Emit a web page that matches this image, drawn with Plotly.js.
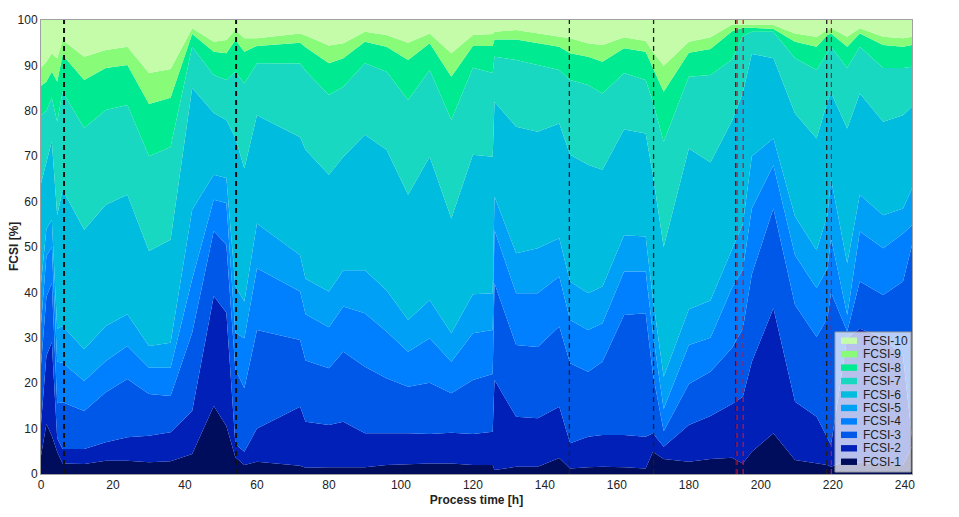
<!DOCTYPE html>
<html>
<head>
<meta charset="utf-8">
<script src="https://cdn.plot.ly/plotly-3.0.1.min.js"></script>
<style>html,body{margin:0;padding:0;background:#fff;}#chart{width:959px;height:517px;}</style>
</head>
<body>
<div id="chart"></div>
<script>
// Process time [h]
const time = [0, 1.5, 3, 4.5, 6, 12, 18, 24, 30, 36, 42, 48, 51.5, 54, 56.5, 60, 72, 73.5, 80, 84, 90, 96, 102, 108, 114, 120, 125.5, 126, 132, 138, 144, 147, 152, 156, 162, 168, 170, 173, 180, 186, 192, 195, 197.5, 203.5, 209.5, 215.5, 218.5, 219.5, 224, 227.5, 234, 239.5, 242];

// FCSI class shares [%]
const fcsi1  = [4, 11, 8.4, 4.9, 2.3, 2.2, 2.9, 2.9, 2.6, 2.8, 4.4, 15, 10.6, 3.7, 2, 2.7, 1.8, 1.4, 1.5, 1.5, 1.5, 2, 2.2, 2.3, 2.3, 2, 2, 0.9, 1.6, 1.6, 3.5, 1.2, 1.5, 1.6, 1.5, 1.2, 4.9, 3.3, 2.7, 3.3, 3.6, 2.3, 4.9, 9, 3.1, 2.3, 2, 1.6, 3, 2.5, 2, 2, 6];
const fcsi2  = [7, 15, 20.6, 3, 3.2, 3.3, 4.1, 5.2, 5.8, 6.4, 9.5, 24.2, 24.9, 2.9, 2.9, 7.3, 13, 10.1, 9.3, 10, 7.5, 7, 6.8, 6.5, 6.8, 6.8, 7.3, 19.8, 11, 10.7, 11.3, 5.6, 6.7, 7, 7.1, 7, 4.1, 2.7, 8.1, 9.5, 11.8, 14.7, 19.8, 27.5, 12.8, 10.3, 5.9, 4.8, 27, 29.5, 28, 24, 2];
const fcsi3  = [13, 13, 13, 7.7, 10.3, 8.4, 11, 12.8, 9.2, 8, 17.2, 14.3, 15, 16.5, 14, 21.7, 14.7, 13.5, 12.5, 15.4, 14.6, 12.1, 10.2, 11.3, 8.7, 11.9, 12.7, 21.3, 15.8, 15.7, 17.7, 17.6, 14.3, 16.1, 26.4, 27.2, 13, 3.4, 9, 9.7, 12.4, 15, 19.3, 22, 21.3, 17.6, 26.4, 33.6, 1.4, 10.4, 9.4, 16.4, 42.4];
const fcsi4  = [9, 9, 8, 9.1, 8.7, 6.6, 6.9, 7.3, 5.8, 6.2, 11.8, 6.9, 9.2, 8, 11, 13.6, 10.7, 10.2, 9, 10, 11.8, 10.3, 7.7, 9.8, 6.9, 10.3, 9.7, 11.7, 11.4, 11.8, 11, 9.5, 9.2, 8.5, 9.6, 9.2, 9, 4.9, 8.6, 7.5, 13.2, 13, 14.5, 9.5, 11, 10.7, 11, 12, 3.6, 11, 10.3, 10.6, 4.4];
const fcsi5  = [9, 6, 6, 7.3, 8.1, 7, 7.7, 7, 4.8, 5.5, 15.3, 5.5, 5.5, 10.3, 8.1, 9.9, 8, 7.8, 7.9, 8, 9.5, 9.1, 7, 8.4, 6.3, 8.6, 8.1, 7.4, 8.8, 9.9, 8.4, 8.5, 8.1, 8.1, 8, 7.7, 7.7, 7.1, 7.9, 8.2, 8.5, 10, 11.5, 5.9, 8.5, 8.4, 11.7, 13, 11.4, 8.1, 7.3, 5.5, 8.1];
const fcsi6  = [22, 15, 17.3, 25, 30, 26.3, 26.7, 26.3, 20.9, 22.7, 26.8, 13.6, 12.8, 32.6, 29.3, 23.8, 26, 28.4, 25.7, 25, 29.8, 30.9, 27.6, 31.6, 25.3, 30.7, 30.1, 20.9, 27.9, 25.7, 25.3, 27.9, 28.3, 25.7, 23.3, 22.7, 27.2, 28.6, 35.4, 30.4, 28.3, 29, 22.5, 17.7, 22.7, 24.6, 25, 19, 29.7, 22.3, 20.6, 20.5, 18];
const fcsi7  = [15, 11, 9.5, 20.6, 21.6, 22.4, 20.9, 19.8, 20.9, 20.4, 9.1, 8.4, 8.8, 14.6, 18.7, 11.5, 16.2, 17.4, 17.6, 15.4, 15.8, 17.2, 20.9, 19.1, 21.7, 19.2, 18.4, 9.9, 14.7, 14.7, 11.8, 16.5, 17.6, 16.8, 12.4, 11.8, 16.1, 23.2, 15.8, 19.3, 13.5, 12.5, 4.9, 5.8, 12.2, 15.1, 11, 10.1, 13.3, 10.3, 11.8, 10.4, 8.8];
const fcsi8  = [6.5, 6.4, 5.8, 8.8, 8.1, 10.6, 9.2, 8.8, 11.5, 10.9, 2.8, 5.1, 5.9, 7, 7, 3.8, 4.6, 5.2, 7, 6.3, 4.7, 5.5, 8.8, 5.9, 9.5, 4.8, 6, 3.8, 4.5, 4.8, 5.1, 5.9, 6.2, 7, 5.5, 6.2, 7.4, 11, 5.3, 5.7, 6.2, 1.8, 0.9, 0.6, 3.6, 5.1, 3.7, 2.9, 4.7, 2.9, 5.1, 4.7, 4.8];
const fcsi9  = [4, 4.4, 4.1, 5.1, 3.3, 5.1, 4, 4, 6.8, 6.3, 1.3, 2.2, 2.9, 2.2, 3, 1.7, 2, 2.6, 3.9, 3.3, 2.2, 2.6, 3.8, 2.1, 5.2, 2.4, 2.6, 1.7, 2.1, 2.2, 2.4, 3.3, 3, 3.7, 2.4, 2.4, 3.6, 5.7, 2.4, 2.6, 1.5, 0.7, 0.6, 0.9, 1.8, 2.2, 1.1, 1.2, 2.2, 1.2, 1.8, 1.9, 1.8];
const fcsi10 = [10.5, 9.2, 7.3, 8.5, 4.4, 8.1, 6.6, 5.9, 11.7, 10.8, 1.8, 4.8, 4.4, 2.2, 4, 4, 3, 3.4, 5.6, 5.1, 2.6, 3.3, 5, 3, 7.3, 3.3, 3.1, 2.6, 2.2, 2.9, 3.5, 4, 5.1, 5.5, 3.8, 4.6, 7, 10.1, 4.8, 3.8, 1, 1, 1.1, 1.1, 3, 3.7, 2.2, 1.8, 3.7, 1.8, 3.7, 4, 3.7];

const seriesNames = ["FCSI-1", "FCSI-2", "FCSI-3", "FCSI-4", "FCSI-5", "FCSI-6", "FCSI-7", "FCSI-8", "FCSI-9", "FCSI-10"];
const seriesValues = [fcsi1, fcsi2, fcsi3, fcsi4, fcsi5, fcsi6, fcsi7, fcsi8, fcsi9, fcsi10];
const seriesColors = ["#000c5c", "#0020b8", "#0058e8", "#0080ff", "#00a0f6", "#00bcdf", "#18d8c2", "#00ea92", "#88fc78", "#c4fcaa"];

// event markers [h]
const blackLinesThick = [6.4, 54.2];
const blackLines = [146.8, 170.2, 193.0, 218.3];
const redLines = [193.4, 195.1, 219.6];

const traces = seriesNames.map((name, i) => ({
  x: time,
  y: seriesValues[i],
  name: name,
  type: 'scatter',
  mode: 'lines',
  stackgroup: 'one',
  line: {width: 0, color: seriesColors[i]},
  fillcolor: seriesColors[i],
  hoverinfo: 'x+y+name',
  showlegend: false
}));

const shapes = [];
const annotations = [];
blackLinesThick.forEach(x => shapes.push({type: 'line', xref: 'x', yref: 'y', x0: x, x1: x, y0: 0, y1: 100,
  line: {color: '#111111', width: 2, dash: '5px,4px'}}));
blackLines.forEach(x => shapes.push({type: 'line', xref: 'x', yref: 'y', x0: x, x1: x, y0: 0, y1: 100,
  line: {color: '#202020', width: 1.3, dash: '5px,4px'}}));
redLines.forEach(x => shapes.push({type: 'line', xref: 'x', yref: 'y', x0: x, x1: x, y0: 0, y1: 100,
  line: {color: '#d01030', width: 1.2, dash: '5px,4px'}}));

// compact legend box (bottom-right, inside the plot), built from the series lists
const W = 959, H = 517, mL = 41, mR = 47, mT = 20, mB = 43;
const plotW = W - mL - mR, plotH = H - mT - mB;
const px2x = p => (p - mL) / plotW;
const px2y = p => (H - mB - p) / plotH;
const box = {left: 835, right: 911, top: 332, bottom: 472};
const firstRow = 340.7, rowStep = 13.45;
shapes.push({type: 'rect', xref: 'paper', yref: 'paper', layer: 'above',
  x0: px2x(box.left), x1: px2x(box.right), y0: px2y(box.bottom), y1: px2y(box.top),
  fillcolor: 'rgba(255,255,255,0.72)', line: {color: '#9a9a9a', width: 1}});
seriesNames.slice().reverse().forEach((name, k) => {
  const idx = seriesNames.length - 1 - k;
  const cy = firstRow + k * rowStep;
  shapes.push({type: 'rect', xref: 'paper', yref: 'paper', layer: 'above',
    x0: px2x(841), x1: px2x(857), y0: px2y(cy + 3.2), y1: px2y(cy - 3.2),
    fillcolor: seriesColors[idx], line: {width: 0}});
  annotations.push({xref: 'paper', yref: 'paper', x: px2x(861), y: px2y(cy),
    xanchor: 'left', yanchor: 'middle', showarrow: false, text: name,
    font: {size: 12, color: '#222222'}});
});

// y-axis title
annotations.push({xref: 'paper', yref: 'paper', x: px2x(14), y: 0.5, xanchor: 'center', yanchor: 'middle',
  textangle: -90, showarrow: false, text: '<b>FCSI [%]</b>', font: {size: 12, color: '#222222'}});

const layout = {
  width: W, height: H,
  margin: {l: mL, r: mR, t: mT, b: mB},
  paper_bgcolor: '#ffffff', plot_bgcolor: '#ffffff',
  font: {family: 'Liberation Sans, Arial, sans-serif', size: 12, color: '#222222'},
  showlegend: false,
  xaxis: {
    range: [0, 242], tick0: 0, dtick: 20, showgrid: false, zeroline: false,
    showline: true, mirror: true, linecolor: '#a0a0a0', linewidth: 1,
    ticks: '', tickfont: {size: 12},
    title: {text: '<b>Process time [h]</b>', font: {size: 12}, standoff: 4}
  },
  yaxis: {
    range: [0, 100], tick0: 0, dtick: 10, showgrid: false, zeroline: false,
    showline: true, mirror: true, linecolor: '#a0a0a0', linewidth: 1,
    ticks: '', tickfont: {size: 12}
  },
  shapes: shapes,
  annotations: annotations
};

Plotly.newPlot('chart', traces, layout, {displayModeBar: false, responsive: false});
</script>
</body>
</html>
